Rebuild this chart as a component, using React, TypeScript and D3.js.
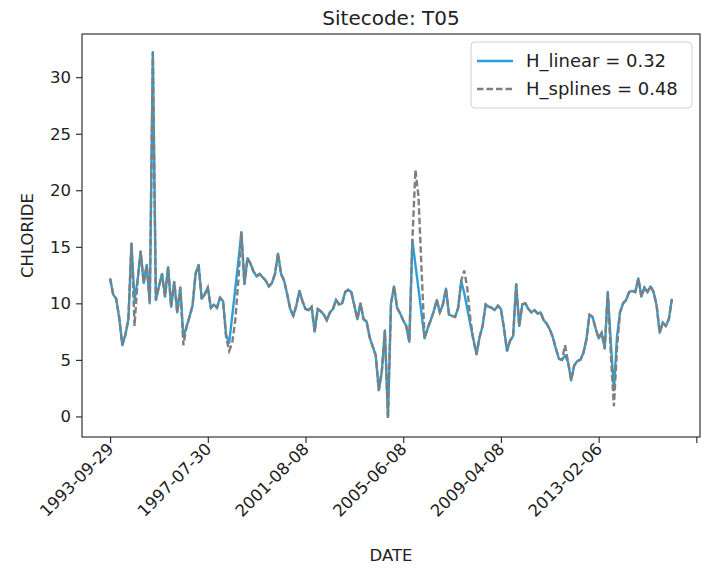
import { useEffect, useRef } from "react";
import * as d3 from "d3";

// Dates are categorical: a label every 32 samples
const tickLabels = ["1993-09-29", "1997-07-30", "2001-08-08", "2005-06-08", "2009-04-08", "2013-02-06", ""];
const tickStep = 32;
const yTicks = [0, 5, 10, 15, 20, 25, 30];

const hLinear = [
  12.2, 10.8, 10.4, 8.7, 6.3, 7.2, 8.6, 15.3, 10.3, 12.0,
  14.6, 11.8, 13.4, 10.0, 32.2, 10.3, 11.5, 12.6, 10.6, 13.2,
  9.7, 11.9, 9.2, 11.4, 7.0, 7.9, 8.8, 9.8, 12.6, 13.4,
  10.4, 10.8, 11.4, 9.6, 9.9, 9.6, 10.5, 10.2, 7.2, 6.5,
  8.9, 11.3, 13.7, 16.3, 11.7, 14.0, 13.5, 12.8, 12.4, 12.6,
  12.3, 12.0, 11.5, 11.8, 12.6, 14.4, 12.6, 12.0, 10.8, 9.5,
  8.9, 9.8, 11.1, 10.2, 9.5, 9.4, 9.7, 7.5, 9.5, 9.3,
  9.0, 8.5, 9.2, 9.5, 10.3, 9.9, 10.0, 11.0, 11.2, 11.0,
  9.8, 8.6, 10.0, 8.6, 8.4, 7.0, 6.2, 5.4, 2.3, 4.0,
  7.6, 0.0, 10.0, 11.5, 9.6, 9.1, 8.5, 8.0, 6.6, 15.6,
  13.4, 11.3, 9.1, 6.9, 7.8, 8.5, 9.3, 10.3, 9.2, 9.9,
  11.3, 9.0, 8.9, 8.8, 9.6, 12.0, 10.9, 9.5, 8.1, 6.8,
  5.5, 7.0, 8.0, 9.9, 9.7, 9.6, 9.4, 9.8, 9.5, 7.8,
  5.8, 6.7, 7.1, 11.7, 8.0, 9.9, 10.0, 9.5, 9.2, 9.4,
  9.1, 9.2, 8.5, 8.2, 7.7, 7.0, 6.0, 5.1, 5.0, 5.4,
  4.8, 3.2, 4.5, 4.9, 5.0, 5.6, 6.8, 9.0, 8.8, 7.8,
  6.9, 7.4, 6.0, 11.0, 6.5, 2.3, 7.0, 9.2, 10.0, 10.3,
  11.0, 11.1, 11.0, 12.2, 10.6, 11.4, 11.0, 11.5, 11.0, 9.8,
  7.4, 8.3, 8.0, 8.6, 10.4,
];

const hSplines = [
  12.2, 10.8, 10.4, 8.7, 6.3, 7.2, 8.6, 15.3, 8.0, 12.0,
  14.6, 11.8, 13.4, 10.0, 32.2, 10.3, 11.5, 12.6, 10.6, 13.2,
  9.7, 11.9, 9.2, 11.4, 6.3, 7.9, 8.8, 9.8, 12.6, 13.4,
  10.4, 10.8, 11.4, 9.6, 9.9, 9.6, 10.5, 10.2, 7.0, 5.8,
  6.5, 8.5, 12.0, 16.3, 11.7, 14.0, 13.5, 12.8, 12.4, 12.6,
  12.3, 12.0, 11.5, 11.8, 12.6, 14.4, 12.6, 12.0, 10.8, 9.5,
  8.9, 9.8, 11.1, 10.2, 9.5, 9.4, 9.7, 7.5, 9.5, 9.3,
  9.0, 8.5, 9.2, 9.5, 10.3, 9.9, 10.0, 11.0, 11.2, 11.0,
  9.8, 8.6, 10.0, 8.6, 8.4, 7.0, 6.2, 5.4, 2.3, 4.0,
  7.6, -0.2, 10.0, 11.5, 9.6, 9.1, 8.5, 8.0, 6.6, 15.6,
  21.8, 19.5, 13.0, 6.9, 7.8, 8.5, 9.3, 10.3, 9.2, 9.9,
  11.3, 9.0, 8.9, 8.8, 9.6, 12.0, 12.9, 11.3, 8.6, 6.7,
  5.5, 7.0, 8.0, 9.9, 9.7, 9.6, 9.4, 9.8, 9.5, 7.8,
  5.8, 6.7, 7.1, 11.7, 8.0, 9.9, 10.0, 9.5, 9.2, 9.4,
  9.1, 9.2, 8.5, 8.2, 7.7, 7.0, 6.0, 5.1, 5.0, 6.3,
  4.8, 3.2, 4.5, 4.9, 5.0, 5.6, 6.8, 9.0, 8.8, 7.8,
  6.9, 7.4, 6.0, 11.0, 5.5, 0.9, 6.0, 9.2, 10.0, 10.3,
  11.0, 11.1, 11.0, 12.2, 10.6, 11.4, 11.0, 11.5, 11.0, 9.8,
  7.4, 8.3, 8.0, 8.6, 10.4,
];

const seriesNames = ["H_linear = 0.32", "H_splines = 0.48"];
const BLUE = "#2a9fd8";
const GRAY = "#7f7f7f";
const FONT = "DejaVu Sans, sans-serif";

export default function App() {
  const svgRef = useRef<SVGSVGElement>(null);

  useEffect(() => {
    if (!svgRef.current) return;
    const width = 705;
    const height = 568;
    const plot = { left: 82, right: 700, top: 34, bottom: 437 };

    const svg = d3.select(svgRef.current);
    svg.selectAll("*").remove();
    svg.append("rect").attr("width", width).attr("height", height).attr("fill", "#fff");

    // matplotlib-like 5% margins
    const n = hLinear.length;
    const xPad = 0.05 * (n - 1);
    const x = d3.scaleLinear().domain([-xPad, n - 1 + xPad]).range([plot.left, plot.right]);
    const [yMin, yMax] = d3.extent([...hLinear, ...hSplines]) as [number, number];
    const yPad = 0.05 * (yMax - yMin);
    const y = d3.scaleLinear().domain([yMin - yPad, yMax + yPad]).range([plot.bottom, plot.top]);

    const line = d3
      .line<number>()
      .x((_, i) => x(i))
      .y((d) => y(d));

    svg.append("path")
      .datum(hLinear)
      .attr("fill", "none")
      .attr("stroke", BLUE)
      .attr("stroke-width", 2.4)
      .attr("stroke-linejoin", "round")
      .attr("d", line);

    svg.append("path")
      .datum(hSplines)
      .attr("fill", "none")
      .attr("stroke", GRAY)
      .attr("stroke-width", 2.4)
      .attr("stroke-dasharray", "6.5 3")
      .attr("d", line);

    // Frame
    svg.append("rect")
      .attr("x", plot.left)
      .attr("y", plot.top)
      .attr("width", plot.right - plot.left)
      .attr("height", plot.bottom - plot.top)
      .attr("fill", "none")
      .attr("stroke", "#222")
      .attr("stroke-width", 1.1);

    // Y axis
    const yAxis = svg.append("g").attr("transform", `translate(${plot.left},0)`).call(
      d3.axisLeft(y).tickValues(yTicks).tickSize(6).tickPadding(5).tickFormat(d3.format("d"))
    );
    yAxis.select(".domain").remove();
    yAxis.selectAll(".tick line").attr("stroke", "#222").attr("stroke-width", 1.1);
    yAxis.selectAll("text").attr("font-family", FONT).attr("font-size", 16.5).attr("fill", "#222");

    // X axis, rotated date labels
    const xTickIdx = tickLabels.map((_, i) => i * tickStep);
    const xAxis = svg.append("g").attr("transform", `translate(0,${plot.bottom})`).call(
      d3.axisBottom(x).tickValues(xTickIdx).tickSize(6).tickFormat((d) => tickLabels[(d as number) / tickStep])
    );
    xAxis.select(".domain").remove();
    xAxis.selectAll(".tick line").attr("stroke", "#222").attr("stroke-width", 1.1);
    xAxis.selectAll("text")
      .attr("font-family", FONT)
      .attr("font-size", 16.5)
      .attr("fill", "#222")
      .attr("text-anchor", "end")
      .attr("x", null)
      .attr("y", null)
      .attr("dy", null)
      .attr("transform", "translate(4,13) rotate(-45)");

    // Labels
    svg.append("text")
      .attr("x", (plot.left + plot.right) / 2)
      .attr("y", 25)
      .attr("text-anchor", "middle")
      .attr("font-family", FONT)
      .attr("font-size", 20)
      .attr("fill", "#222")
      .text("Sitecode: T05");

    svg.append("text")
      .attr("x", (plot.left + plot.right) / 2)
      .attr("y", 561)
      .attr("text-anchor", "middle")
      .attr("font-family", FONT)
      .attr("font-size", 16.5)
      .attr("fill", "#222")
      .text("DATE");

    svg.append("text")
      .attr("transform", `translate(33,${(plot.top + plot.bottom) / 2}) rotate(-90)`)
      .attr("text-anchor", "middle")
      .attr("font-family", FONT)
      .attr("font-size", 16.5)
      .attr("fill", "#222")
      .text("CHLORIDE");

    // Legend
    const lg = svg.append("g").attr("transform", "translate(471,42)");
    lg.append("rect")
      .attr("width", 221)
      .attr("height", 66)
      .attr("rx", 4)
      .attr("fill", "#fff")
      .attr("fill-opacity", 0.8)
      .attr("stroke", "#d0d0d0");
    seriesNames.forEach((name, i) => {
      const cy = 19 + i * 28;
      lg.append("line")
        .attr("x1", 6)
        .attr("x2", 42)
        .attr("y1", cy)
        .attr("y2", cy)
        .attr("stroke", i === 0 ? BLUE : GRAY)
        .attr("stroke-width", 2.4)
        .attr("stroke-dasharray", i === 0 ? null : "6.5 3");
      lg.append("text")
        .attr("x", 55)
        .attr("y", cy + 6)
        .attr("font-family", FONT)
        .attr("font-size", 18)
        .attr("fill", "#222")
        .text(name);
    });
  }, []);

  return (
    <svg
      ref={svgRef}
      width={705}
      height={568}
      viewBox="0 0 705 568"
      style={{ position: "absolute", left: 0, top: 0 }}
    />
  );
}
